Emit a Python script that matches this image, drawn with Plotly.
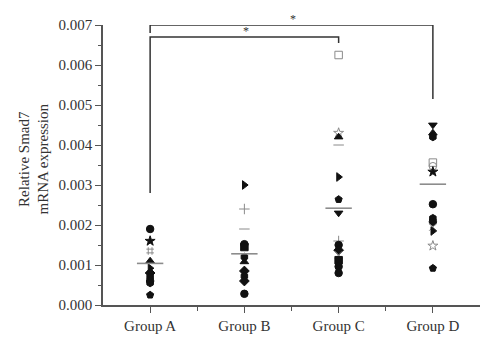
import plotly.graph_objects as go

groups = ["Group A", "Group B", "Group C", "Group D"]

group_a_vals = [0.0019, 0.0016, 0.00135, 0.0011, 0.00092, 0.0008, 0.0007, 0.0006, 0.00055, 0.00025]
group_a_sym = ["circle", "star", "hash-open", "triangle-up", "triangle-right", "diamond", "hexagon", "circle", "hexagon", "pentagon"]

group_b_vals = [0.0030, 0.0024, 0.0019, 0.00152, 0.00145, 0.0012, 0.00108, 0.00085, 0.00072, 0.0006, 0.00028]
group_b_sym = ["triangle-right", "cross-thin-open", "line-ew-open", "circle", "square", "hexagon", "triangle-up", "diamond", "hexagon", "diamond", "circle"]

group_c_vals = [0.00625, 0.0043, 0.0042, 0.0040, 0.0032, 0.00264, 0.0023, 0.0016, 0.0015, 0.00137, 0.00125, 0.00112, 0.00096, 0.0008]
group_c_sym = ["square-open", "star-open", "triangle-up", "line-ew-open", "triangle-right", "pentagon", "triangle-down", "cross-thin-open", "circle", "diamond", "x-thin-open", "square", "circle", "circle"]

group_d_vals = [0.0045, 0.0043, 0.0042, 0.00356, 0.00347, 0.00333, 0.00252, 0.00217, 0.00208, 0.00195, 0.00185, 0.00148, 0.00092]
group_d_sym = ["triangle-down", "triangle-up", "hexagon", "square-open", "circle-open", "star", "circle", "hexagon", "circle", "x-thin-open", "triangle-right", "star-open", "pentagon"]

group_means = [0.00104, 0.00128, 0.00242, 0.00302]

# significance brackets: (left group, right group, bar height, left leg bottom, right leg bottom)
brackets = [
    (1, 4, 0.00700, 0.00680, 0.00515),
    (1, 3, 0.00670, 0.00280, 0.00655),
]
# asterisk positions (x in group units, y in data units)
star_x = [2.52, 2.02]
star_y = [0.00714, 0.00684]

Y_MAX = 0.007

all_vals = [group_a_vals, group_b_vals, group_c_vals, group_d_vals]
all_syms = [group_a_sym, group_b_sym, group_c_sym, group_d_sym]

fig = go.Figure()

for i, (vals, syms) in enumerate(zip(all_vals, all_syms)):
    xs = [i + 1] * len(vals)
    colors = ["#8a8a8a" if s.endswith("-open") else "#111111" for s in syms]
    fig.add_trace(go.Scatter(
        x=xs, y=vals, mode="markers",
        marker=dict(symbol=syms, size=7.5, color=colors,
                    line=dict(color=colors, width=1)),
        showlegend=False, hoverinfo="y"))

half = 0.14
for i, m in enumerate(group_means):
    fig.add_trace(go.Scatter(
        x=[i + 1 - half, i + 1 + half], y=[m, m], mode="lines",
        line=dict(color="#8c8c8c", width=1.6), showlegend=False, hoverinfo="skip"))

for (g1, g2, h, l1, l2) in brackets:
    fig.add_trace(go.Scatter(
        x=[g1, g1, g2, g2], y=[l1, h, h, l2], mode="lines",
        line=dict(color="#333333", width=1.5), cliponaxis=False,
        showlegend=False, hoverinfo="skip"))

for sx, sy in zip(star_x, star_y):
    fig.add_annotation(x=sx, xref="x", y=sy / Y_MAX, yref="paper", text="*", showarrow=False,
                       font=dict(family="Liberation Serif", size=12, color="#333"), yanchor="middle")

fig.add_annotation(xref="paper", yref="paper", x=-0.183, y=0.52,
                   text="Relative Smad7<br>mRNA expression", textangle=-90,
                   showarrow=False, xanchor="center", yanchor="middle",
                   font=dict(family="Liberation Serif", size=15, color="#333"))

fig.update_xaxes(range=[0.5, 4.5], tickmode="array", tickvals=[1, 2, 3, 4], ticktext=groups,
                 ticks="outside", ticklen=6, tickwidth=1.2, tickcolor="#555",
                 showline=True, linecolor="#555", linewidth=1.5, showgrid=False, zeroline=False,
                 minor=dict(tickmode="array", tickvals=[1.5, 2.5, 3.5], ticks="outside", ticklen=4, tickcolor="#555"),
                 tickfont=dict(family="Liberation Serif", size=15, color="#333"))
fig.update_yaxes(range=[0, Y_MAX], dtick=0.001, tickformat=".3f",
                 ticks="outside", ticklen=6, tickwidth=1.2, tickcolor="#555",
                 showline=True, linecolor="#555", linewidth=1.5, showgrid=False, zeroline=False,
                 minor=dict(dtick=0.0005, ticks="outside", ticklen=3, tickcolor="#555"),
                 tickfont=dict(family="Liberation Serif", size=15, color="#333"))

fig.update_layout(width=500, height=351, margin=dict(l=103, r=20, t=25, b=46),
                  plot_bgcolor="white", paper_bgcolor="white")

fig.write_html("out.html")
